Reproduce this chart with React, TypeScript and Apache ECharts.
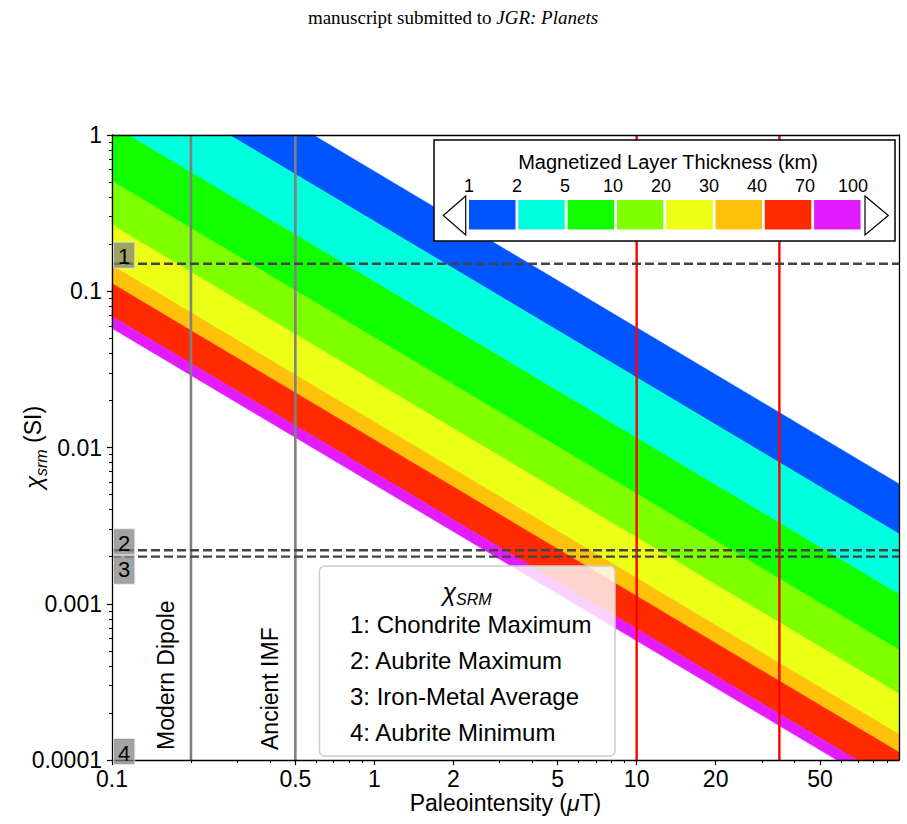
import React, { useEffect, useRef } from 'react';
import * as echarts from 'echarts';

const SANS = '"Liberation Sans", Arial, Helvetica, sans-serif';
const SERIF = '"Liberation Serif", "Times New Roman", serif';

// Axis ranges: paleointensity (μT) and susceptibility (SI)
const X_RANGE = [0.1, 100];
const Y_RANGE = [0.0001, 1];

// Magnetized layer thickness (km) at each colour edge, and the χ·B value (SI·μT) along that edge
const THICKNESS_KM = [1, 2, 5, 10, 20, 30, 40, 70, 100];
const EDGE_CHI_B = [0.585, 0.28, 0.115, 0.0505, 0.0265, 0.0146, 0.0112, 0.0069, 0.0058];
const BAND_COLORS = ['#0055ff', '#00ffdc', '#12ff00', '#80ff00', '#ebff17', '#ffc20a', '#ff2a00', '#e31cff'];

// Tick positions
const X_MAJOR_TICKS = [0.1, 0.5, 1, 2, 5, 10, 20, 50];
const X_MINOR_TICKS = [0.2, 0.3, 0.4, 0.6, 0.7, 0.8, 0.9, 3, 4, 6, 7, 8, 9, 30, 40, 60, 70, 80, 90];
const Y_MINOR_TICKS = [
  0.0002, 0.0003, 0.0004, 0.0005, 0.0006, 0.0007, 0.0008, 0.0009,
  0.002, 0.003, 0.004, 0.005, 0.006, 0.007, 0.008, 0.009,
  0.02, 0.03, 0.04, 0.05, 0.06, 0.07, 0.08, 0.09,
  0.2, 0.3, 0.4, 0.5, 0.6, 0.7, 0.8, 0.9,
];

// Reference field strengths (μT)
const GRAY_FIELDS = [0.2, 0.5];
const GRAY_FIELD_NAMES = ['Modern Dipole', 'Ancient IMF'];
const RED_FIELDS = [10, 35];

// Susceptibility references (SI)
const CHI_REF = [0.15, 0.0022, 0.002, 0.0001];
const CHI_REF_NAMES = ['Chondrite Maximum', 'Aubrite Maximum', 'Iron-Metal Average', 'Aubrite Minimum'];

type Pt = number[];

// Keep the part of a polygon where f(p) >= 0
function clipHalfPlane(poly: Pt[], f: (p: Pt) => number): Pt[] {
  const out: Pt[] = [];
  for (let i = 0; i < poly.length; i++) {
    const a = poly[i];
    const b = poly[(i + 1) % poly.length];
    const fa = f(a);
    const fb = f(b);
    if (fa >= 0) out.push(a);
    if ((fa >= 0) !== (fb >= 0)) {
      const t = fa / (fa - fb);
      out.push([a[0] + t * (b[0] - a[0]), a[1] + t * (b[1] - a[1])]);
    }
  }
  return out;
}

const fmtTick = (v: number) => String(parseFloat(v.toPrecision(2)));

export default function App() {
  const ref = useRef<HTMLDivElement>(null);

  useEffect(() => {
    const el = ref.current;
    if (!el) return;
    const chart = echarts.init(el, undefined, { renderer: 'svg' });

    const LX = X_RANGE.map(Math.log10);
    const LY = Y_RANGE.map(Math.log10);
    const bandData = BAND_COLORS.map((_, i) => [EDGE_CHI_B[i], EDGE_CHI_B[i + 1]]);

    const axisText = { fontFamily: SANS, fontSize: 23, color: '#000' };

    const option: any = {
      animation: false,
      backgroundColor: '#fff',
      grid: { left: 112, right: 8, top: 135, bottom: 64, containLabel: false, outerBoundsMode: 'none' },
      xAxis: [
        {
          type: 'log', logBase: 10, min: X_RANGE[0], max: X_RANGE[1], position: 'bottom', z: 10,
          axisLine: { show: true, onZero: false, lineStyle: { color: '#000', width: 1.3 } },
          axisTick: { show: false }, axisLabel: { show: false }, splitLine: { show: false },
        },
        {
          type: 'value', min: LX[0], max: LX[1], position: 'bottom',
          axisLine: { show: false, onZero: false },
          axisTick: { show: true, length: 5, customValues: X_MAJOR_TICKS.map(Math.log10), lineStyle: { color: '#000', width: 1.2 } },
          axisLabel: { show: true, customValues: X_MAJOR_TICKS.map(Math.log10), formatter: (v: number) => fmtTick(Math.pow(10, v)), margin: 7, ...axisText },
          splitLine: { show: false },
          name: '{n|Paleointensity (}{m|μ}{n|T)}',
          nameLocation: 'middle', nameGap: 31, nameMoveOverlap: false,
          nameTextStyle: {
            ...axisText,
            rich: {
              n: { fontFamily: SANS, fontSize: 23, color: '#000' },
              m: { fontFamily: SANS, fontSize: 23, color: '#000', fontStyle: 'italic' },
            },
          },
        },
        {
          type: 'value', min: LX[0], max: LX[1], position: 'bottom',
          axisLine: { show: false, onZero: false },
          axisTick: { show: true, length: 3, customValues: X_MINOR_TICKS.map(Math.log10), lineStyle: { color: '#000', width: 1 } },
          axisLabel: { show: false }, splitLine: { show: false },
        },
        {
          type: 'log', logBase: 10, min: X_RANGE[0], max: X_RANGE[1], position: 'top', z: 10,
          axisLine: { show: true, onZero: false, lineStyle: { color: '#000', width: 1.3 } },
          axisTick: { show: false }, axisLabel: { show: false }, splitLine: { show: false },
        },
      ],
      yAxis: [
        {
          type: 'log', logBase: 10, min: Y_RANGE[0], max: Y_RANGE[1], position: 'left', z: 10,
          axisLine: { show: true, onZero: false, lineStyle: { color: '#000', width: 1.3 } },
          axisTick: { show: true, length: 5, lineStyle: { color: '#000', width: 1.2 } },
          axisLabel: { show: true, margin: 10, formatter: (v: number) => fmtTick(v), ...axisText },
          splitLine: { show: false },
          name: '{c|χ}{s|srm}{n| (SI)}',
          nameLocation: 'middle', nameGap: 63, nameRotate: 90, nameMoveOverlap: false,
          nameTextStyle: {
            ...axisText,
            rich: {
              c: { fontFamily: SANS, fontSize: 24, color: '#000', fontStyle: 'italic', lineHeight: 32 },
              s: { fontFamily: SANS, fontSize: 16, color: '#000', fontStyle: 'italic', lineHeight: 16, verticalAlign: 'bottom' },
              n: { fontFamily: SANS, fontSize: 23, color: '#000', lineHeight: 32 },
            },
          },
        },
        {
          type: 'value', min: LY[0], max: LY[1], position: 'left',
          axisLine: { show: false, onZero: false },
          axisTick: { show: true, length: 3, customValues: Y_MINOR_TICKS.map(Math.log10), lineStyle: { color: '#000', width: 1 } },
          axisLabel: { show: false }, splitLine: { show: false },
        },
        {
          type: 'log', logBase: 10, min: Y_RANGE[0], max: Y_RANGE[1], position: 'right', z: 10,
          axisLine: { show: true, onZero: false, lineStyle: { color: '#000', width: 1.3 } },
          axisTick: { show: false }, axisLabel: { show: false }, splitLine: { show: false },
        },
      ],
      series: [
        {
          type: 'custom',
          name: 'Magnetized Layer Thickness',
          xAxisIndex: 0, yAxisIndex: 0, z: 1, silent: true,
          data: bandData,
          renderItem: (params: any, api: any) => {
            const hi = Math.log10(api.value(0));
            const lo = Math.log10(api.value(1));
            let poly: Pt[] = [[LX[0], LY[0]], [LX[1], LY[0]], [LX[1], LY[1]], [LX[0], LY[1]]];
            poly = clipHalfPlane(poly, (p) => p[0] + p[1] - lo);
            poly = clipHalfPlane(poly, (p) => hi - p[0] - p[1]);
            if (poly.length < 3) return null;
            const points = poly.map((p) => api.coord([Math.pow(10, p[0]), Math.pow(10, p[1])]));
            const color = BAND_COLORS[params.dataIndex];
            return { type: 'polygon', shape: { points }, style: { fill: color, stroke: color, lineWidth: 0.6 } };
          },
        },
        ...GRAY_FIELDS.map((x, i) => ({
          type: 'line', name: GRAY_FIELD_NAMES[i], xAxisIndex: 0, yAxisIndex: 0, z: 3, silent: true,
          symbol: 'none', data: [[x, Y_RANGE[0]], [x, Y_RANGE[1]]],
          lineStyle: { color: '#808080', width: 2.6 },
        })),
        ...RED_FIELDS.map((x) => ({
          type: 'line', xAxisIndex: 0, yAxisIndex: 0, z: 3, silent: true,
          symbol: 'none', data: [[x, Y_RANGE[0]], [x, Y_RANGE[1]]],
          lineStyle: { color: '#ff0000', width: 2.4 },
        })),
        ...CHI_REF.slice(0, 3).map((y, i) => ({
          type: 'line', name: CHI_REF_NAMES[i], xAxisIndex: 0, yAxisIndex: 0, z: 4, silent: true,
          symbol: 'none', data: [[X_RANGE[0], y], [X_RANGE[1], y]],
          lineStyle: { color: '#444444', width: 2.3, type: [9, 4] },
        })),
      ],
    };

    chart.setOption(option);

    const toPx = (x: number, y: number) =>
      chart.convertToPixel({ xAxisIndex: 0, yAxisIndex: 0 }, [x, y]) as number[];
    const plotLeft = toPx(X_RANGE[0], Y_RANGE[0])[0];
    const plotBottom = toPx(X_RANGE[0], Y_RANGE[0])[1];

    const graphics: any[] = [];

    // Running header
    graphics.push({
      type: 'text', x: 453, y: 17, z: 100,
      style: {
        text: '{r|manuscript submitted to }{i|JGR: Planets}',
        align: 'center', verticalAlign: 'middle',
        rich: {
          r: { fontFamily: SERIF, fontSize: 19, fill: '#000' },
          i: { fontFamily: SERIF, fontSize: 19, fill: '#000', fontStyle: 'italic' },
        },
      },
    });

    // Numbered tags on the susceptibility lines (3 hangs below its line, the rest sit on theirs)
    CHI_REF.forEach((v, i) => {
      const y = toPx(X_RANGE[0], v)[1];
      const below = i === 2;
      graphics.push({
        type: 'text', x: plotLeft + 2, y: below ? y - 1 : y - 21, z: 60,
        style: {
          text: String(i + 1), fontFamily: SANS, fontSize: 22, fill: '#000',
          align: 'left', verticalAlign: 'top', lineHeight: 22,
          backgroundColor: 'rgba(128,128,128,0.72)',
          padding: below ? [3, 4, 3, 4] : [3, 4, 0, 4],
          borderColor: 'rgba(220,220,220,0.7)', borderWidth: 1,
        },
      });
    });

    // Labels for the reference field lines
    GRAY_FIELDS.forEach((f, i) => {
      const x = toPx(f, Y_RANGE[0])[0];
      graphics.push({
        type: 'text', x: x - 25, y: plotBottom - 10, rotation: Math.PI / 2, z: 60,
        style: {
          text: GRAY_FIELD_NAMES[i], fontFamily: SANS, fontSize: 23, fill: '#000',
          align: 'left', verticalAlign: 'middle',
        },
      });
    });

    // Susceptibility key
    graphics.push({
      type: 'rect', z: 80,
      shape: { x: 319.5, y: 566, width: 295.5, height: 190, r: 5 },
      style: { fill: 'rgba(255,255,255,0.8)', stroke: '#cccccc', lineWidth: 1.5 },
    });
    graphics.push({
      type: 'text', x: 467, y: 592, z: 81,
      style: {
        text: '{c|χ}{s|SRM}', align: 'center', verticalAlign: 'middle',
        rich: {
          c: { fontFamily: SANS, fontSize: 25, fill: '#000', fontStyle: 'italic', lineHeight: 30 },
          s: { fontFamily: SANS, fontSize: 16, fill: '#000', fontStyle: 'italic', lineHeight: 22, verticalAlign: 'bottom' },
        },
      },
    });
    CHI_REF_NAMES.forEach((name, i) => {
      graphics.push({
        type: 'text', x: 350, y: 624 + i * 36.2, z: 81,
        style: {
          text: `${i + 1}: ${name}`, fontFamily: SANS, fontSize: 24, fill: '#000',
          align: 'left', verticalAlign: 'middle',
        },
      });
    });

    // Thickness colour key
    graphics.push({
      type: 'rect', z: 80,
      shape: { x: 434, y: 140, width: 461, height: 101 },
      style: { fill: '#ffffff', stroke: '#000000', lineWidth: 1.5 },
    });
    graphics.push({
      type: 'text', x: 668, y: 162, z: 81,
      style: {
        text: 'Magnetized Layer Thickness (km)', fontFamily: SANS, fontSize: 20, fill: '#000',
        align: 'center', verticalAlign: 'middle',
      },
    });
    BAND_COLORS.forEach((c, k) => {
      graphics.push({
        type: 'rect', z: 81,
        shape: { x: 469 + k * 49.3, y: 200, width: 46.5, height: 29.5 },
        style: { fill: c },
      });
    });
    THICKNESS_KM.forEach((t, k) => {
      graphics.push({
        type: 'text', x: 469 + k * 48, y: 186, z: 81,
        style: {
          text: String(t), fontFamily: SANS, fontSize: 18, fill: '#000',
          align: 'center', verticalAlign: 'middle',
        },
      });
    });
    graphics.push({
      type: 'polygon', z: 81,
      shape: { points: [[465.7, 196], [443.3, 215.5], [465.7, 235]] },
      style: { fill: '#fff', stroke: '#000', lineWidth: 1.2 },
    });
    graphics.push({
      type: 'polygon', z: 81,
      shape: { points: [[865, 196], [888.3, 215.5], [865, 235]] },
      style: { fill: '#fff', stroke: '#000', lineWidth: 1.2 },
    });

    chart.setOption({ graphic: graphics });

    return () => chart.dispose();
  }, []);

  return (
    <div
      ref={ref}
      style={{ position: 'absolute', left: 0, top: 0, width: 907, height: 824, background: '#fff' }}
    />
  );
}
